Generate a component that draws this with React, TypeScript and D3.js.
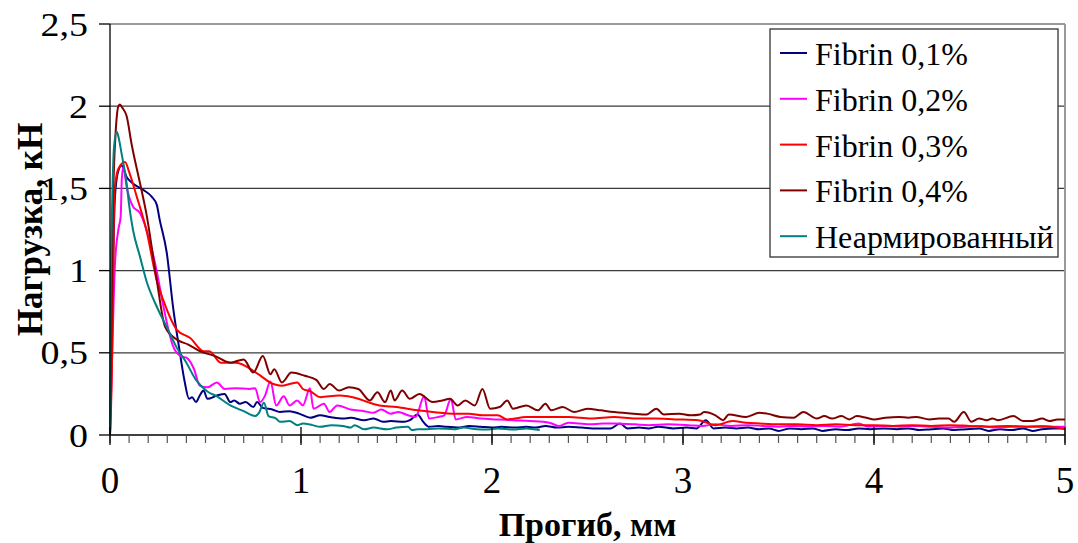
import React from "react";
import * as d3 from "d3";

// Load–deflection curves, [deflection mm, load kN]
const fibrin01: [number, number][] = [
  [0, 0], [0.005, 0.33], [0.016, 1.04], [0.026, 1.45], [0.044, 1.61], [0.061, 1.64], [0.087, 1.57],
  [0.12, 1.53], [0.175, 1.49], [0.218, 1.45], [0.245, 1.4], [0.26, 1.31], [0.297, 1.11], [0.33, 0.78],
  [0.366, 0.5], [0.39, 0.33], [0.414, 0.22], [0.43, 0.23], [0.45, 0.2], [0.47, 0.24], [0.49, 0.27],
  [0.51, 0.22], [0.56, 0.24], [0.6, 0.25], [0.63, 0.2], [0.65, 0.21], [0.68, 0.19], [0.71, 0.2],
  [0.75, 0.17], [0.77, 0.2], [0.8, 0.165], [0.85, 0.155], [0.89, 0.14], [0.94, 0.145], [0.99, 0.13],
  [1.05, 0.105], [1.1, 0.12], [1.15, 0.11], [1.22, 0.1], [1.26, 0.105], [1.33, 0.09], [1.38, 0.1],
  [1.43, 0.08], [1.47, 0.085], [1.54, 0.08], [1.57, 0.09], [1.61, 0.125], [1.64, 0.08], [1.67, 0.05],
  [1.72, 0.055], [1.76, 0.05], [1.83, 0.045], [1.88, 0.055], [1.94, 0.05], [2.0, 0.045], [2.05, 0.05],
  [2.12, 0.045], [2.18, 0.05], [2.23, 0.045], [2.28, 0.055], [2.34, 0.045], [2.4, 0.05], [2.47, 0.045],
  [2.55, 0.04], [2.62, 0.04], [2.67, 0.07], [2.71, 0.04], [2.77, 0.045], [2.82, 0.04], [2.87, 0.05],
  [2.95, 0.04], [3.02, 0.045], [3.07, 0.04], [3.12, 0.09], [3.16, 0.04], [3.22, 0.045], [3.28, 0.04],
  [3.34, 0.045], [3.4, 0.035], [3.45, 0.04], [3.5, 0.025], [3.56, 0.04], [3.62, 0.035], [3.68, 0.04],
  [3.73, 0.025], [3.8, 0.035], [3.86, 0.03], [3.92, 0.04], [3.98, 0.035], [4.05, 0.04], [4.12, 0.035],
  [4.18, 0.04], [4.24, 0.03], [4.3, 0.035], [4.36, 0.04], [4.42, 0.03], [4.48, 0.035], [4.55, 0.04],
  [4.6, 0.025], [4.66, 0.035], [4.72, 0.03], [4.78, 0.04], [4.83, 0.025], [4.88, 0.035], [4.94, 0.04],
  [5.0, 0.04],
];

const fibrin02: [number, number][] = [
  [0, 0], [0.01, 0.43], [0.026, 1.04], [0.044, 1.25], [0.056, 1.33], [0.062, 1.56], [0.07, 1.63],
  [0.087, 1.51], [0.12, 1.39], [0.157, 1.35], [0.21, 1.17], [0.244, 1.0], [0.28, 0.78], [0.33, 0.54],
  [0.37, 0.48], [0.4, 0.47], [0.44, 0.4], [0.47, 0.3], [0.51, 0.29], [0.56, 0.32], [0.6, 0.28],
  [0.66, 0.285], [0.73, 0.28], [0.76, 0.285], [0.785, 0.2], [0.81, 0.235], [0.84, 0.325], [0.87, 0.18],
  [0.91, 0.235], [0.94, 0.18], [0.98, 0.21], [1.01, 0.18], [1.047, 0.284], [1.065, 0.16], [1.12, 0.19],
  [1.15, 0.14], [1.19, 0.18], [1.26, 0.155], [1.33, 0.145], [1.38, 0.135], [1.42, 0.155], [1.47, 0.13],
  [1.51, 0.14], [1.56, 0.12], [1.6, 0.11], [1.645, 0.235], [1.67, 0.1], [1.72, 0.11], [1.75, 0.12],
  [1.785, 0.22], [1.81, 0.095], [1.87, 0.11], [1.94, 0.1], [2.03, 0.095], [2.11, 0.09], [2.2, 0.085],
  [2.3, 0.075], [2.35, 0.055], [2.4, 0.075], [2.51, 0.065], [2.58, 0.07], [2.64, 0.07], [2.75, 0.065],
  [2.82, 0.06], [2.92, 0.065], [3.03, 0.06], [3.1, 0.055], [3.17, 0.065], [3.25, 0.055], [3.34, 0.06],
  [3.42, 0.055], [3.5, 0.05], [3.58, 0.055], [3.66, 0.05], [3.74, 0.055], [3.82, 0.05], [3.92, 0.07],
  [3.97, 0.05], [4.05, 0.055], [4.14, 0.05], [4.22, 0.055], [4.3, 0.05], [4.4, 0.045], [4.48, 0.05],
  [4.56, 0.055], [4.64, 0.045], [4.72, 0.05], [4.8, 0.05], [4.88, 0.055], [4.94, 0.05], [5.0, 0.05],
];

const fibrin03: [number, number][] = [
  [0, 0], [0.009, 0.33], [0.017, 0.94], [0.022, 1.46], [0.044, 1.62], [0.079, 1.66], [0.1, 1.6],
  [0.14, 1.45], [0.19, 1.25], [0.245, 0.94], [0.279, 0.82], [0.35, 0.64], [0.42, 0.59], [0.49, 0.51],
  [0.52, 0.51], [0.58, 0.44], [0.66, 0.44], [0.77, 0.375], [0.855, 0.31], [0.9, 0.3], [0.98, 0.32],
  [1.01, 0.28], [1.05, 0.265], [1.1, 0.23], [1.2, 0.24], [1.3, 0.22], [1.35, 0.2], [1.41, 0.18],
  [1.5, 0.17], [1.61, 0.15], [1.69, 0.14], [1.81, 0.13], [1.88, 0.13], [1.95, 0.12], [2.03, 0.12],
  [2.08, 0.095], [2.18, 0.11], [2.3, 0.11], [2.4, 0.11], [2.52, 0.1], [2.64, 0.11], [2.75, 0.1],
  [2.85, 0.1], [2.96, 0.095], [3.08, 0.09], [3.17, 0.06], [3.26, 0.085], [3.33, 0.075], [3.4, 0.07],
  [3.5, 0.065], [3.6, 0.065], [3.7, 0.06], [3.8, 0.065], [3.9, 0.06], [4.0, 0.06], [4.1, 0.055],
  [4.2, 0.06], [4.3, 0.055], [4.4, 0.06], [4.5, 0.055], [4.6, 0.05], [4.7, 0.055], [4.8, 0.05],
  [4.9, 0.05], [4.96, 0.045], [5.0, 0.035],
];

const fibrin04: [number, number][] = [
  [0, 0], [0.006, 0.5], [0.012, 1.2], [0.02, 1.6], [0.03, 1.85], [0.044, 2.0], [0.052, 2.01],
  [0.065, 1.99], [0.087, 1.94], [0.113, 1.77], [0.165, 1.49], [0.19, 1.35], [0.245, 0.94], [0.288, 0.66],
  [0.35, 0.58], [0.41, 0.55], [0.47, 0.51], [0.55, 0.48], [0.63, 0.44], [0.7, 0.46], [0.75, 0.38],
  [0.8, 0.48], [0.84, 0.37], [0.86, 0.4], [0.9, 0.32], [0.95, 0.38], [1.02, 0.36], [1.08, 0.335],
  [1.12, 0.28], [1.15, 0.31], [1.2, 0.27], [1.25, 0.29], [1.3, 0.28], [1.36, 0.21], [1.4, 0.26],
  [1.44, 0.2], [1.47, 0.27], [1.49, 0.21], [1.53, 0.27], [1.57, 0.22], [1.62, 0.25], [1.69, 0.2],
  [1.74, 0.21], [1.78, 0.22], [1.82, 0.18], [1.86, 0.21], [1.91, 0.18], [1.95, 0.28], [1.99, 0.16],
  [2.04, 0.17], [2.08, 0.21], [2.11, 0.16], [2.18, 0.18], [2.24, 0.15], [2.28, 0.19], [2.31, 0.15],
  [2.37, 0.17], [2.43, 0.14], [2.5, 0.16], [2.57, 0.15], [2.64, 0.14], [2.74, 0.13], [2.81, 0.125],
  [2.86, 0.16], [2.9, 0.125], [2.98, 0.13], [3.04, 0.12], [3.09, 0.125], [3.11, 0.14], [3.17, 0.12],
  [3.21, 0.09], [3.24, 0.125], [3.33, 0.11], [3.4, 0.135], [3.44, 0.13], [3.51, 0.11], [3.58, 0.105],
  [3.63, 0.14], [3.7, 0.1], [3.74, 0.115], [3.78, 0.1], [3.83, 0.115], [3.87, 0.095], [3.91, 0.115],
  [3.96, 0.105], [4.0, 0.095], [4.06, 0.105], [4.13, 0.11], [4.18, 0.105], [4.22, 0.11], [4.29, 0.095],
  [4.34, 0.1], [4.39, 0.1], [4.42, 0.08], [4.47, 0.14], [4.51, 0.08], [4.55, 0.1], [4.59, 0.09],
  [4.62, 0.1], [4.65, 0.09], [4.73, 0.115], [4.78, 0.085], [4.83, 0.085], [4.88, 0.1], [4.92, 0.085],
  [4.96, 0.095], [5.0, 0.095],
];

const plain: [number, number][] = [
  [0, 0], [0.002, 0.73], [0.01, 1.33], [0.021, 1.75], [0.035, 1.845], [0.045, 1.81], [0.061, 1.71],
  [0.075, 1.62], [0.087, 1.53], [0.1, 1.4], [0.12, 1.25], [0.157, 1.085], [0.19, 0.94], [0.245, 0.78],
  [0.3, 0.65], [0.35, 0.53], [0.4, 0.44], [0.45, 0.335], [0.51, 0.265], [0.56, 0.235], [0.63, 0.18],
  [0.7, 0.145], [0.76, 0.115], [0.78, 0.135], [0.806, 0.196], [0.83, 0.115], [0.87, 0.1], [0.89, 0.08],
  [0.94, 0.085], [0.98, 0.06], [1.01, 0.07], [1.06, 0.06], [1.1, 0.05], [1.16, 0.06], [1.22, 0.055],
  [1.26, 0.045], [1.28, 0.06], [1.33, 0.035], [1.38, 0.045], [1.45, 0.035], [1.5, 0.045], [1.56, 0.05],
  [1.58, 0.03], [1.61, 0.035], [1.66, 0.035], [1.72, 0.04], [1.8, 0.035], [1.85, 0.045], [1.92, 0.035],
  [1.97, 0.033], [2.03, 0.04], [2.11, 0.033], [2.18, 0.04], [2.25, 0.03],
];

const seriesNames = ["Fibrin 0,1%", "Fibrin 0,2%", "Fibrin 0,3%", "Fibrin 0,4%", "Неармированный"];
const seriesColors = ["#000080", "#FF00FF", "#FF0000", "#800000", "#008080"];
const seriesData = [fibrin01, fibrin02, fibrin03, fibrin04, plain];

const yTicks = [0, 0.5, 1, 1.5, 2, 2.5];
const xTicks = [0, 1, 2, 3, 4, 5];
const xMinorTicks = d3.range(0, 51).map((i) => i / 10);

const fmt = (v: number) => String(v).replace(".", ",");

const W = 1078;
const H = 543;
const left = 110;
const right = 1065;
const top = 24;
const bottom = 435;

const txt = { fontFamily: "Liberation Serif", fill: "#000" };

export default function App() {
  const x = d3.scaleLinear().domain([0, 5]).range([left, right]);
  const y = d3.scaleLinear().domain([0, 2.5]).range([bottom, top]);
  const line = d3
    .line<[number, number]>()
    .x((d) => x(d[0]))
    .y((d) => y(d[1]))
    .curve(d3.curveMonotoneX);

  const legendX = 770;
  const legendY = 29;
  const legendW = 288;
  const legendH = 228;
  const rowH = 45.8;

  return (
    <svg
      width={W}
      height={H}
      style={{ position: "absolute", left: 0, top: 0, background: "#fff" }}
    >
      {/* gridlines */}
      {yTicks.slice(1, -1).map((t) => (
        <line key={"g" + t} x1={left} x2={right} y1={y(t)} y2={y(t)} stroke="#3a3a3a" strokeWidth={1.3} />
      ))}
      {/* plot frame (top & right) */}
      <line x1={left} x2={right} y1={y(2.5)} y2={y(2.5)} stroke="#9a9a9a" strokeWidth={2} />
      <line x1={right} x2={right} y1={top} y2={bottom} stroke="#9a9a9a" strokeWidth={2} />

      {/* series */}
      {seriesData.map((d, i) => (
        <path key={"s" + i} d={line(d) || ""} fill="none" stroke={seriesColors[i]} strokeWidth={2} strokeLinejoin="round" />
      ))}

      {/* y axis */}
      <line x1={left} x2={left} y1={top} y2={bottom} stroke="#000" strokeWidth={1.3} />
      {yTicks.map((t) => (
        <g key={"y" + t}>
          <line x1={left - 11} x2={left} y1={y(t)} y2={y(t)} stroke="#000" strokeWidth={1.3} />
          <text
            transform={`translate(88, ${y(t)}) scale(1.15, 1)`}
            dy="0.35em"
            textAnchor="end"
            fontSize={33}
            style={txt}
          >
            {fmt(t)}
          </text>
        </g>
      ))}

      {/* x axis */}
      <line x1={left} x2={right} y1={bottom} y2={bottom} stroke="#000" strokeWidth={1.3} />
      {xMinorTicks.map((t, i) => (
        <line key={"m" + i} x1={x(t)} x2={x(t)} y1={bottom} y2={bottom + 8} stroke="#555" strokeWidth={1.2} />
      ))}
      {xTicks.map((t) => (
        <g key={"x" + t}>
          <line x1={x(t)} x2={x(t)} y1={bottom - 8} y2={bottom + 10} stroke="#000" strokeWidth={1.3} />
          <text x={x(t)} y={493} textAnchor="middle" fontSize={37} style={txt}>
            {fmt(t)}
          </text>
        </g>
      ))}

      {/* axis titles */}
      <text x={(left + right) / 2} y={536} textAnchor="middle" fontSize={34} fontWeight="bold" style={txt}>
        Прогиб, мм
      </text>
      <text
        transform={`translate(42, ${(top + bottom) / 2}) rotate(-90)`}
        textAnchor="middle"
        fontSize={35}
        fontWeight="bold"
        style={txt}
      >
        Нагрузка, кН
      </text>

      {/* legend */}
      <rect x={legendX} y={legendY} width={legendW} height={legendH} fill="#fff" stroke="#333" strokeWidth={1.3} />
      {seriesNames.map((name, i) => (
        <g key={"l" + i}>
          <line
            x1={legendX + 10}
            x2={legendX + 37}
            y1={legendY + 24 + i * rowH}
            y2={legendY + 24 + i * rowH}
            stroke={seriesColors[i]}
            strokeWidth={2}
          />
          <text x={legendX + 45} y={legendY + 36 + i * rowH} fontSize={32} style={txt}>
            {name}
          </text>
        </g>
      ))}
    </svg>
  );
}
